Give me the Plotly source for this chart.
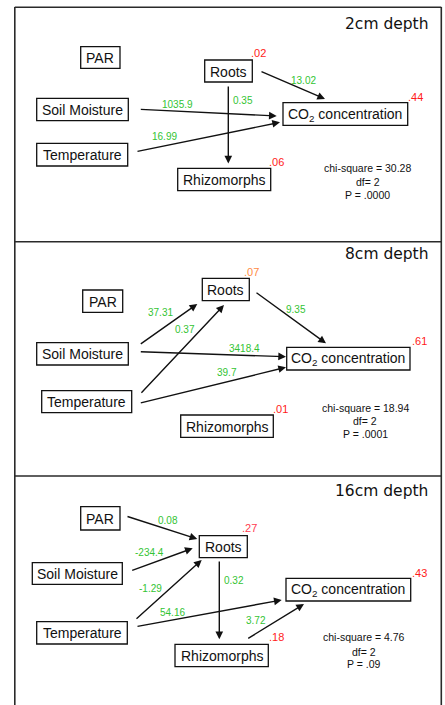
import plotly.graph_objects as go

# ---------------- DATA ----------------
panel_titles = ["2cm depth", "8cm depth", "16cm depth"]
node_names = ["PAR", "Roots", "Soil Moisture", "Temperature", "Rhizomorphs", "CO2"]
node_labels = ["PAR", "Roots", "Soil Moisture", "Temperature", "Rhizomorphs",
               "CO<sub>2</sub> concentration"]

# path coefficients
paths_2cm_from = ["Roots", "Soil Moisture", "Temperature", "Roots"]
paths_2cm_to = ["CO2", "CO2", "CO2", "Rhizomorphs"]
paths_2cm_coef = ["13.02", "1035.9", "16.99", "0.35"]

paths_8cm_from = ["Soil Moisture", "Temperature", "Roots", "Soil Moisture", "Temperature"]
paths_8cm_to = ["Roots", "Roots", "CO2", "CO2", "CO2"]
paths_8cm_coef = ["37.31", "0.37", "9.35", "3418.4", "39.7"]

paths_16cm_from = ["PAR", "Soil Moisture", "Temperature", "Temperature", "Roots", "Rhizomorphs"]
paths_16cm_to = ["Roots", "Roots", "Roots", "CO2", "Rhizomorphs", "CO2"]
paths_16cm_coef = ["0.08", "-234.4", "-1.29", "54.16", "0.32", "3.72"]

# explained variance (R squared) of endogenous variables
r2_2cm_nodes = ["Roots", "CO2", "Rhizomorphs"]
r2_2cm_values = [".02", ".44", ".06"]
r2_8cm_nodes = ["Roots", "CO2", "Rhizomorphs"]
r2_8cm_values = [".07", ".61", ".01"]
r2_16cm_nodes = ["Roots", "CO2", "Rhizomorphs"]
r2_16cm_values = [".27", ".43", ".18"]

# model fit
chi_square = ["30.28", "18.94", "4.76"]
df_values = ["2", "2", "2"]
p_values = [".0000", ".0001", ".09"]

# ---------------- LAYOUT (positions in page pixel space) ----------------
boxes = [
    {"PAR": (80.7, 46.7, 120, 68.3), "Roots": (204.7, 60, 252.3, 82),
     "Soil Moisture": (36.7, 98.3, 128.3, 120.7), "Temperature": (36.7, 143.3, 127.7, 166),
     "Rhizomorphs": (177.7, 168.3, 270.7, 190.7), "CO2": (283, 102.7, 407.7, 125.3)},
    {"PAR": (82.7, 290, 122.7, 312.3), "Roots": (202.3, 278.3, 249.3, 300.7),
     "Soil Moisture": (36.7, 342.7, 128.3, 365), "Temperature": (41.7, 390.7, 131.7, 412.7),
     "Rhizomorphs": (180.7, 415, 273.3, 437.3), "CO2": (286.7, 347.3, 410, 370)},
    {"PAR": (80.7, 506.7, 120, 530), "Roots": (199.3, 535.7, 247.3, 557.7),
     "Soil Moisture": (32.3, 562.7, 122.3, 584.3), "Temperature": (36.7, 621.7, 127.3, 644),
     "Rhizomorphs": (175, 644.3, 268.3, 666.7), "CO2": (286, 578.3, 410.7, 601)},
]
# arrow geometry: (tail x, tail y, head x, head y, label x, label y)
arrow_geo = [
    {("Roots", "CO2"): (260, 71, 325, 99, 303, 80.7),
     ("Soil Moisture", "CO2"): (139.3, 109.3, 276.7, 116, 177, 104.3),
     ("Temperature", "CO2"): (136, 151.7, 280, 122.3, 164, 136.7),
     ("Roots", "Rhizomorphs"): (228.3, 85, 228.3, 163.5, 242.7, 100.7)},
    {("Soil Moisture", "Roots"): (139.3, 345, 197.3, 304, 160.7, 312.3),
     ("Temperature", "Roots"): (140, 394.3, 224, 305, 185, 329.3),
     ("Roots", "CO2"): (255, 291.7, 326, 343.3, 296, 309),
     ("Soil Moisture", "CO2"): (139.3, 351.7, 286, 356.7, 244.3, 348.3),
     ("Temperature", "CO2"): (139.3, 403.3, 286, 367.3, 227.3, 372.7)},
    {("PAR", "Roots"): (126, 516, 197.3, 539, 167.7, 520.7),
     ("Soil Moisture", "Roots"): (130.7, 571, 192.7, 548.3, 149.3, 552.7),
     ("Temperature", "Roots"): (135, 620, 201.7, 560, 150.7, 588.3),
     ("Temperature", "CO2"): (136, 626.7, 281.7, 600, 172.7, 612.7),
     ("Roots", "Rhizomorphs"): (219.3, 560, 219.3, 639.3, 234.3, 580.7),
     ("Rhizomorphs", "CO2"): (246.7, 639.3, 304, 604, 256, 620.7)},
]
r2_pos = [
    {"Roots": (258.7, 53.3), "CO2": (415, 96.7), "Rhizomorphs": (276.5, 161.7)},
    {"Roots": (251, 272.3), "CO2": (419, 341), "Rhizomorphs": (280.7, 409.3)},
    {"Roots": (249.3, 528.3), "CO2": (419.3, 572.7), "Rhizomorphs": (276.8, 637.3)},
]
r2_colors = [
    {"Roots": "#ff1a1a", "CO2": "#ff1a1a", "Rhizomorphs": "#ff1a1a"},
    {"Roots": "#ff8a45", "CO2": "#ff1a1a", "Rhizomorphs": "#ff1a1a"},
    {"Roots": "#ff3b4f", "CO2": "#ff1a1a", "Rhizomorphs": "#ff1a1a"},
]
title_pos = [(431, 24), (431, 254), (429.5, 490.7)]
chi_pos = [(367.7, (168.3, 181.7, 195)), (365, (407.7, 421, 434)), (364.3, (637.3, 651.7, 664))]

paths_from = [paths_2cm_from, paths_8cm_from, paths_16cm_from]
paths_to = [paths_2cm_to, paths_8cm_to, paths_16cm_to]
paths_coef = [paths_2cm_coef, paths_8cm_coef, paths_16cm_coef]
r2_nodes = [r2_2cm_nodes, r2_8cm_nodes, r2_16cm_nodes]
r2_values = [r2_2cm_values, r2_8cm_values, r2_16cm_values]

BOX_FONT = dict(family="Liberation Sans, Arial", size=14, color="#111111")
GREEN = "#33c433"

W, H = 445, 705

fig = go.Figure()
fig.add_trace(go.Scatter(x=[0, W], y=[0, H], mode="markers",
                         marker=dict(opacity=0), hoverinfo="skip", showlegend=False))

shapes = []
annotations = []

# outer frame
frame = dict(type="line", xref="x", yref="y", line=dict(color="#2a2a2a", width=1.6))
shapes.append({**frame, "x0": 14.8, "x1": 14.8, "y0": 7, "y1": H})
shapes.append({**frame, "x0": 441.3, "x1": 441.3, "y0": 7, "y1": H})
shapes.append({**frame, "x0": 14.8, "x1": 441.3, "y0": 7.3, "y1": 7.3})
shapes.append({**frame, "x0": 14.8, "x1": 441.3, "y0": 241.7, "y1": 241.7})
shapes.append({**frame, "x0": 14.8, "x1": 441.3, "y0": 476, "y1": 476})

for p in range(3):
    # panel title
    tx, ty = title_pos[p]
    annotations.append(dict(x=tx, y=ty, xref="x", yref="y", text=panel_titles[p],
                            showarrow=False, xanchor="right", yanchor="middle",
                            font=dict(family="Comic Sans MS, DejaVu Sans", size=15.5, color="#111111")))
    # boxes
    for name, label in zip(node_names, node_labels):
        x0, y0, x1, y1 = boxes[p][name]
        shapes.append(dict(type="rect", xref="x", yref="y", x0=x0, x1=x1, y0=y0, y1=y1,
                           line=dict(color="#111111", width=1.3), fillcolor="rgba(0,0,0,0)"))
        annotations.append(dict(x=(x0 + x1) / 2, y=(y0 + y1) / 2 + 0.5, xref="x", yref="y",
                                text=label, showarrow=False, xanchor="center", yanchor="middle",
                                font=BOX_FONT))
    # arrows + coefficients
    for f, t, c in zip(paths_from[p], paths_to[p], paths_coef[p]):
        ax, ay, hx, hy, lx, ly = arrow_geo[p][(f, t)]
        annotations.append(dict(x=hx, y=hy, ax=ax, ay=ay, xref="x", yref="y",
                                axref="x", ayref="y", text="", showarrow=True,
                                arrowhead=2, arrowsize=1.1, arrowwidth=1.4,
                                arrowcolor="#111111", standoff=0, startstandoff=0))
        annotations.append(dict(x=lx, y=ly, xref="x", yref="y", text=c, showarrow=False,
                                xanchor="center", yanchor="middle",
                                font=dict(family="Liberation Sans, Arial", size=10, color=GREEN)))
    # R squared
    for n, v in zip(r2_nodes[p], r2_values[p]):
        rx, ry = r2_pos[p][n]
        annotations.append(dict(x=rx, y=ry, xref="x", yref="y", text=v, showarrow=False,
                                xanchor="center", yanchor="middle",
                                font=dict(family="Liberation Sans, Arial", size=11,
                                          color=r2_colors[p][n])))
    # fit statistics
    cx, cys = chi_pos[p]
    lines = ["chi-square = " + chi_square[p], "df= " + df_values[p], "P = " + p_values[p]]
    for line, cy in zip(lines, cys):
        annotations.append(dict(x=cx, y=cy, xref="x", yref="y", text=line, showarrow=False,
                                xanchor="center", yanchor="middle",
                                font=dict(family="Liberation Sans, Arial", size=10.5, color="#111111")))

fig.update_layout(
    width=W, height=H, margin=dict(l=0, r=0, t=0, b=0),
    paper_bgcolor="white", plot_bgcolor="white",
    xaxis=dict(range=[0, W], visible=False, fixedrange=True),
    yaxis=dict(range=[H, 0], visible=False, fixedrange=True),
    shapes=shapes, annotations=annotations, showlegend=False,
    hovermode=False,
)
fig.write_html(
    "out.html",
    config={"displayModeBar": False, "staticPlot": True},
    post_script="document.body.style.margin='0';document.body.style.overflow='hidden';",
)
